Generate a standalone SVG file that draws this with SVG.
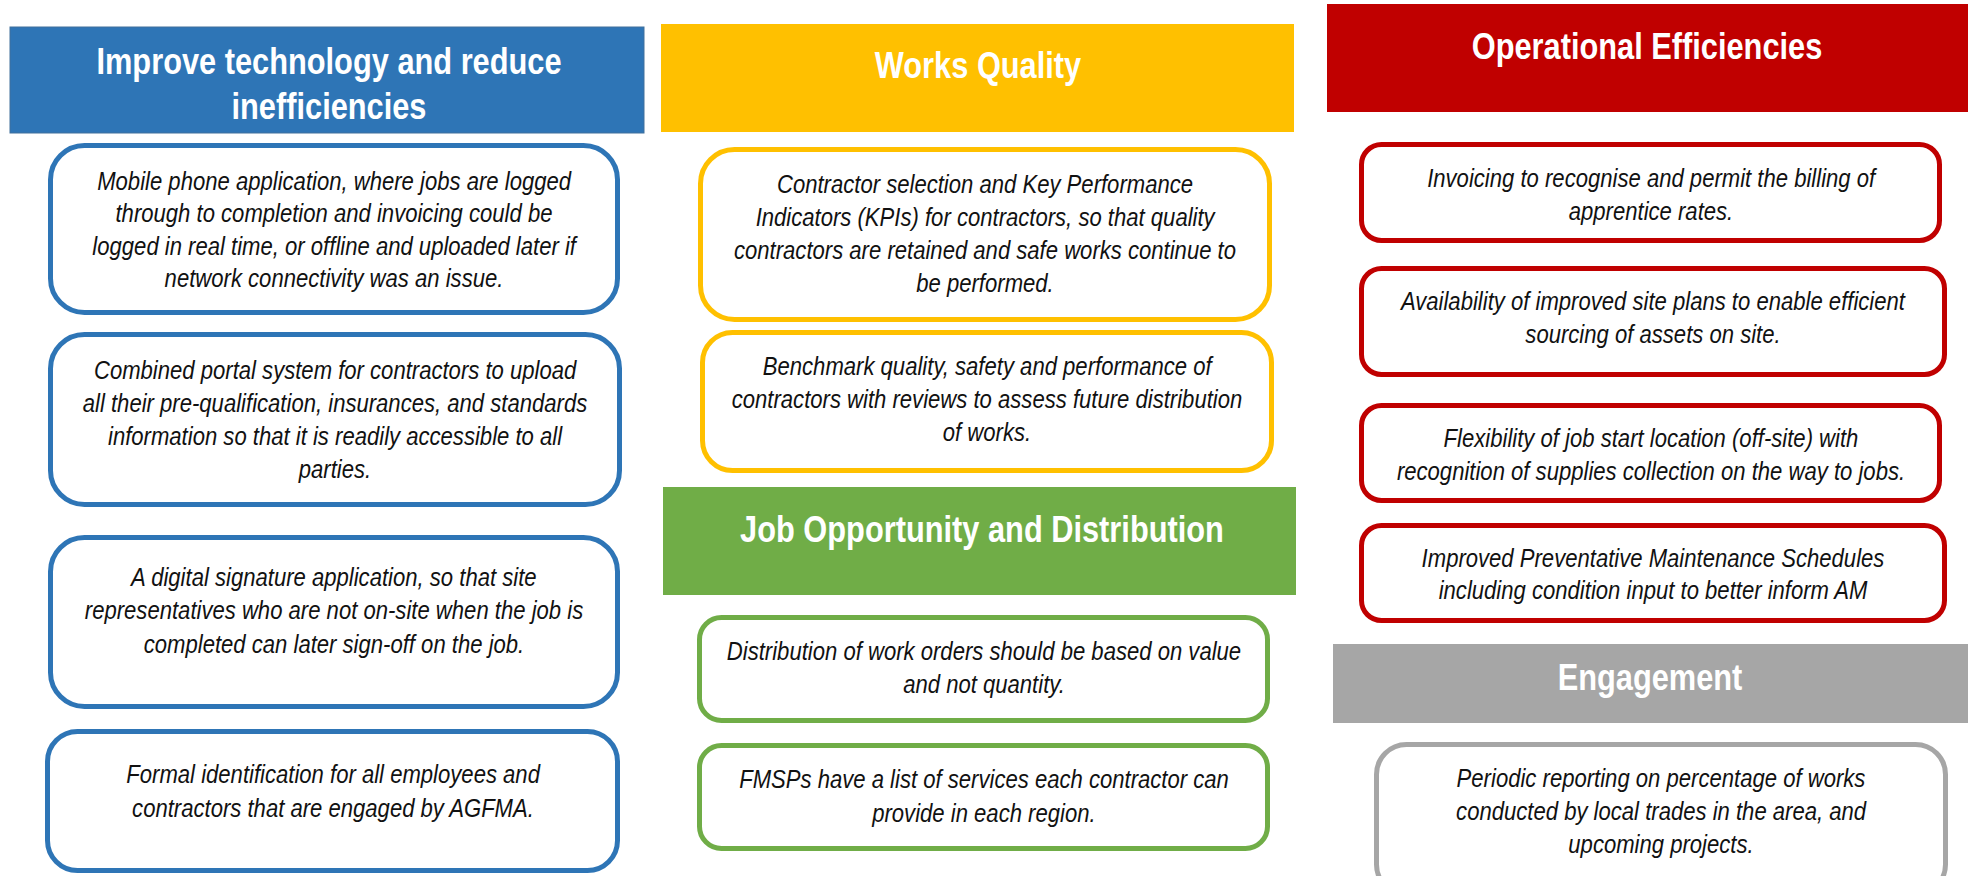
<svg xmlns="http://www.w3.org/2000/svg" width="1968" height="876" viewBox="0 0 1968 876">
<style>
.hd{font-family:"Liberation Sans","Arial",sans-serif;font-weight:bold;font-size:36px;fill:#fff;text-anchor:middle;transform-box:fill-box;transform-origin:center;transform:scaleX(0.855)}
.bt{font-family:"Liberation Sans","Arial",sans-serif;font-style:italic;font-size:26px;fill:#111;text-anchor:middle;transform-box:fill-box;transform-origin:center;transform:scaleX(0.85)}
.box{fill:#fff;stroke-width:5}
.blue{stroke:#2E75B6}.yel{stroke:#FFC000}.grn{stroke:#70AD47}.red{stroke:#C00000}.gry{stroke:#A6A6A6}
</style>
<rect width="1968" height="876" fill="#fff"/>
<g id="connectors"/>
<g id="hdr-tech">
<rect x="10" y="27" width="634" height="106" fill="#2E75B6" stroke="#41719C" stroke-width="1"/>
<text class="hd" x="329" y="74">Improve technology and reduce</text>
<text class="hd" x="329" y="119">inefficiencies</text>
</g>
<g id="b1"><rect class="box blue" x="50.5" y="145.5" width="567" height="167" rx="34"/>
<text class="bt" x="334" y="190">Mobile phone application, where jobs are logged</text>
<text class="bt" x="334" y="222">through to completion and invoicing could be</text>
<text class="bt" x="334" y="255">logged in real time, or offline and uploaded later if</text>
<text class="bt" x="334" y="287">network connectivity was an issue.</text></g>
<g id="b2"><rect class="box blue" x="50.5" y="334.5" width="569" height="170" rx="34"/>
<text class="bt" x="335" y="379">Combined portal system for contractors to upload</text>
<text class="bt" x="335" y="412">all their pre-qualification, insurances, and standards</text>
<text class="bt" x="335" y="445">information so that it is readily accessible to all</text>
<text class="bt" x="335" y="478">parties.</text></g>
<g id="b3"><rect class="box blue" x="50.5" y="537.5" width="567" height="169" rx="34"/>
<text class="bt" x="334" y="586">A digital signature application, so that site</text>
<text class="bt" x="334" y="619">representatives who are not on-site when the job is</text>
<text class="bt" x="334" y="653">completed can later sign-off on the job.</text></g>
<g id="b4"><rect class="box blue" x="47.5" y="731.5" width="570" height="139" rx="30"/>
<text class="bt" x="333" y="783">Formal identification for all employees and</text>
<text class="bt" x="333" y="817">contractors that are engaged by AGFMA.</text></g>

<g id="hdr-quality">
<rect x="661" y="24" width="633" height="108" fill="#FFC000"/>
<text class="hd" x="978" y="78">Works Quality</text>
</g>
<g id="y1"><rect class="box yel" x="700.5" y="149.5" width="569" height="170" rx="34"/>
<text class="bt" x="985" y="193">Contractor selection and Key Performance</text>
<text class="bt" x="985" y="226">Indicators (KPIs) for contractors, so that quality</text>
<text class="bt" x="985" y="259">contractors are retained and safe works continue to</text>
<text class="bt" x="985" y="292">be performed.</text></g>
<g id="y2"><rect class="box yel" x="702.5" y="332.5" width="569" height="138" rx="30"/>
<text class="bt" x="987" y="375">Benchmark quality, safety and performance of</text>
<text class="bt" x="987" y="408">contractors with reviews to assess future distribution</text>
<text class="bt" x="987" y="441">of works.</text></g>

<g id="hdr-job">
<rect x="663" y="487" width="633" height="108" fill="#70AD47"/>
<text class="hd" x="982" y="542">Job Opportunity and Distribution</text>
</g>
<g id="g1"><rect class="box grn" x="699.5" y="617.5" width="568" height="103" rx="22"/>
<text class="bt" x="984" y="660">Distribution of work orders should be based on value</text>
<text class="bt" x="984" y="693">and not quantity.</text></g>
<g id="g2"><rect class="box grn" x="699.5" y="745.5" width="568" height="103" rx="22"/>
<text class="bt" x="984" y="788">FMSPs have a list of services each contractor can</text>
<text class="bt" x="984" y="822">provide in each region.</text></g>

<g id="hdr-ops">
<rect x="1327" y="4" width="641" height="108" fill="#C00000"/>
<text class="hd" x="1647" y="59">Operational Efficiencies</text>
</g>
<g id="r1"><rect class="box red" x="1361.5" y="144.5" width="578" height="96" rx="20"/>
<text class="bt" x="1651" y="187">Invoicing to recognise and permit the billing of</text>
<text class="bt" x="1651" y="220">apprentice rates.</text></g>
<g id="r2"><rect class="box red" x="1361.5" y="268.5" width="583" height="106" rx="20"/>
<text class="bt" x="1653" y="310">Availability of improved site plans to enable efficient</text>
<text class="bt" x="1653" y="343">sourcing of assets on site.</text></g>
<g id="r3"><rect class="box red" x="1361.5" y="405.5" width="578" height="95" rx="20"/>
<text class="bt" x="1651" y="447">Flexibility of job start location (off-site) with</text>
<text class="bt" x="1651" y="480">recognition of supplies collection on the way to jobs.</text></g>
<g id="r4"><rect class="box red" x="1361.5" y="525.5" width="583" height="95" rx="20"/>
<text class="bt" x="1653" y="567">Improved Preventative Maintenance Schedules</text>
<text class="bt" x="1653" y="599">including condition input to better inform AM</text></g>

<g id="hdr-eng">
<rect x="1333" y="644" width="635" height="79" fill="#A6A6A6"/>
<text class="hd" x="1650" y="690">Engagement</text>
</g>
<g id="e1"><rect class="box gry" x="1376.5" y="744.5" width="569" height="150" rx="30"/>
<text class="bt" x="1661" y="787">Periodic reporting on percentage of works</text>
<text class="bt" x="1661" y="820">conducted by local trades in the area, and</text>
<text class="bt" x="1661" y="853">upcoming projects.</text></g>
</svg>
